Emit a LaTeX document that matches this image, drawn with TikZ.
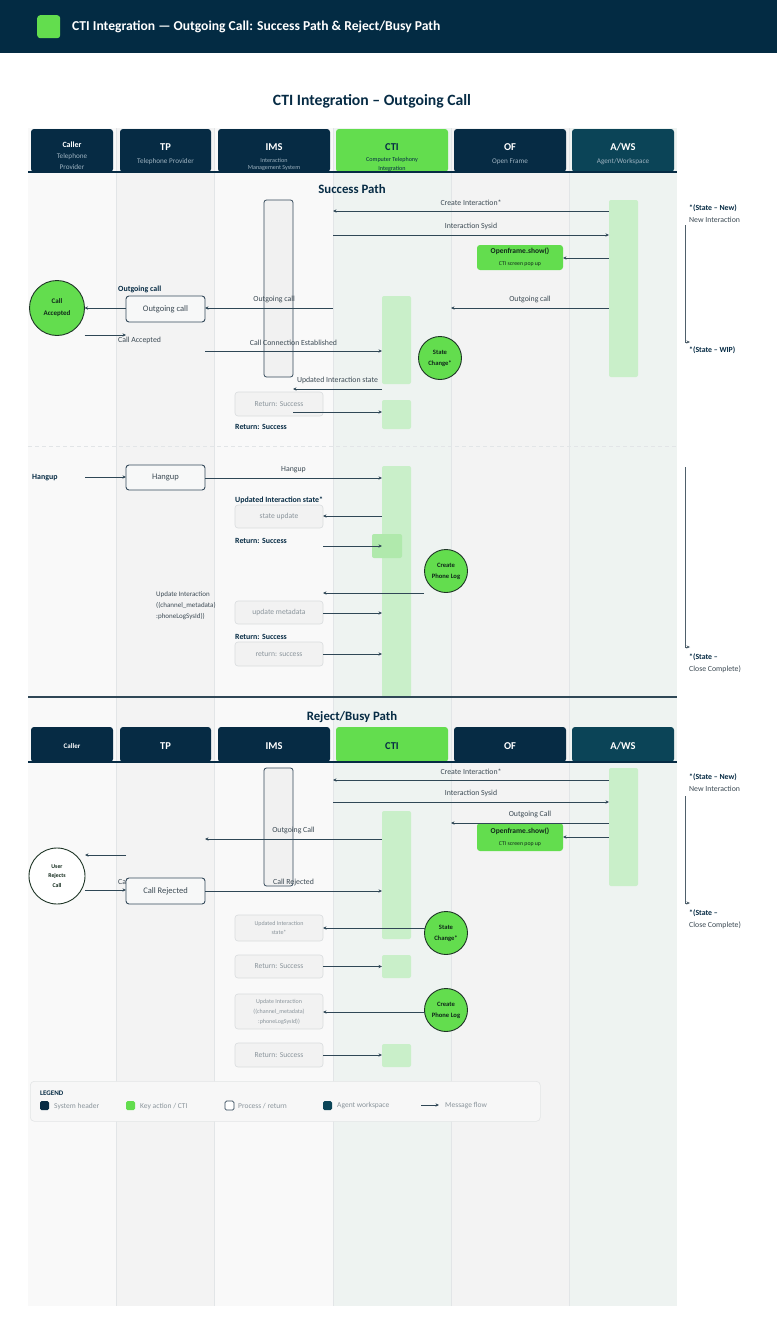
\documentclass[tikz,border=0pt]{standalone}
\usepackage{fontspec}
\setmainfont{Carlito}
\usetikzlibrary{arrows.meta}
\newcommand\fsz[2]{\fontsize{#1}{#2}\selectfont}
\definecolor{banner}{HTML}{032B43}
\definecolor{navy}{HTML}{062B44}
\definecolor{teal}{HTML}{0B4457}
\definecolor{keygreen}{HTML}{63DD4E}
\definecolor{barg}{HTML}{C9EFC9}
\definecolor{barg2}{HTML}{B0E9AC}
\definecolor{laneA}{HTML}{F9F9F9}
\definecolor{laneB}{HTML}{F3F3F3}
\definecolor{laneC}{HTML}{EEF3F1}
\definecolor{lanesep}{HTML}{E2E5E7}
\definecolor{subt}{HTML}{9DB2C0}
\definecolor{arr}{HTML}{2F4756}
\definecolor{lbltxt}{HTML}{3C4A54}
\definecolor{graytxt}{HTML}{8A949B}
\definecolor{edge}{HTML}{34495A}
\definecolor{imsfill}{HTML}{F1F1F1}
\definecolor{procfill}{HTML}{F7F8F8}
\definecolor{retfill}{HTML}{F2F2F2}
\definecolor{retedge}{HTML}{D9DCDE}
\definecolor{circedge}{HTML}{1E3526}
\definecolor{circtxt}{HTML}{10281A}
\definecolor{statecol}{HTML}{4F606B}
\definecolor{legfill}{HTML}{F7F7F7}
\definecolor{legedge}{HTML}{E3E5E6}
\tikzset{
  lanebg/.style={anchor=north west, inner sep=0, outer sep=0, minimum height=1178pt},
  hdr/.style={anchor=north west, inner sep=0, outer sep=0, minimum height=43pt, rounded corners=3pt, fill=navy},
  hdrb/.style={hdr, minimum height=35pt},
  hname/.style={font=\bfseries\fsz{10.5}{12}, text=white, inner sep=0},
  hsub/.style={font=\fsz{7.2}{8}, text=subt, inner sep=0},
  sectitle/.style={font=\bfseries\fsz{12.8}{14}, text=navy, inner sep=0},
  actbar/.style={anchor=north west, inner sep=0, outer sep=0, fill=barg, rounded corners=2pt},
  imsbox/.style={anchor=north west, inner sep=0, outer sep=0, fill=imsfill, draw=edge, line width=0.8pt, rounded corners=2.5pt},
  procbox/.style={anchor=north west, inner sep=0, outer sep=0, fill=procfill, draw=edge, line width=0.9pt, rounded corners=3pt, minimum width=79pt, font=\fsz{8.5}{10}, text=lbltxt},
  retbox/.style={anchor=north west, inner sep=0, outer sep=0, fill=retfill, draw=retedge, line width=0.6pt, rounded corners=3pt, minimum width=88pt, font=\fsz{7.6}{9}, text=graytxt, align=center},
  keybox/.style={anchor=north west, inner sep=0, outer sep=0, fill=keygreen, rounded corners=3pt, minimum width=86pt, align=center, text=circtxt},
  circ/.style={circle, draw=circedge, line width=0.9pt, fill=keygreen, inner sep=0, outer sep=0, align=center, font=\bfseries\fsz{6.6}{11}, text=circtxt},
  msg/.style={draw=arr, line width=0.75pt, -{Stealth[length=3.5pt,width=3.2pt]}},
  lbl/.style={font=\fsz{7.8}{9}, text=lbltxt, inner sep=0},
  blbl/.style={font=\bfseries\fsz{7.9}{9}, text=navy, inner sep=0, anchor=west},
  note/.style={font=\fsz{7.8}{9}, text=lbltxt, inner sep=0, anchor=west},
  bnote/.style={note, font=\bfseries\fsz{7.8}{9}, text=navy},
  statearr/.style={draw=statecol, line width=0.9pt, -{Stealth[length=3.5pt,width=3pt]}},
  legsq/.style={anchor=north west, inner sep=0, outer sep=0, minimum size=9pt, rounded corners=1.5pt},
  legtxt/.style={font=\fsz{7.5}{9}, text=graytxt, inner sep=0, anchor=west}
}
\begin{document}
\begin{tikzpicture}[x=1pt,y=-1pt]
\useasboundingbox (0,0) rectangle (777,1330);
\fill[white] (0,0) rectangle (777,1330);
% banner
\fill[banner] (0,0) rectangle (777,53);
\node[fill=keygreen, rounded corners=3pt, minimum size=23pt, inner sep=0, anchor=north west] (bannerIcon) at (37,15) {};
\node[font=\bfseries\fsz{13.6}{15}, text=white, anchor=west, inner sep=0] (bannerTitle) at (72,27) {CTI Integration — Outgoing Call: Success Path \& Reject/Busy Path};
\node[font=\bfseries\fsz{15.7}{17}, text=navy, inner sep=0] (title) at (372,101) {CTI Integration – Outgoing Call};
% lanes
\node[lanebg, fill=laneA, minimum width=88pt] (lnCaller) at (28,128) {};
\node[lanebg, fill=laneB, minimum width=98pt] (lnTP) at (116,128) {};
\node[lanebg, fill=laneA, minimum width=119pt] (lnIMS) at (214,128) {};
\node[lanebg, fill=laneC, minimum width=118pt] (lnCTI) at (333,128) {};
\node[lanebg, fill=laneB, minimum width=118pt] (lnOF) at (451,128) {};
\node[lanebg, fill=laneC, minimum width=108pt] (lnAWS) at (569,128) {};
\foreach \l in {lnTP,lnIMS,lnCTI,lnOF,lnAWS}
  \draw[lanesep, line width=0.6pt] (\l.north west) -- (\l.south west);
% headers row 1
\node[hdr, minimum width=82pt] (hCaller) at (31,129) {};
\node[hdr, minimum width=91pt] (hTP) at (120,129) {};
\node[hdr, minimum width=112pt] (hIMS) at (218,129) {};
\node[hdr, minimum width=112pt, fill=keygreen] (hCTI) at (336,129) {};
\node[hdr, minimum width=112pt] (hOF) at (454,129) {};
\node[hdr, minimum width=102pt, fill=teal] (hAWS) at (572,129) {};
\draw[navy, line width=1.5pt] (28,172) -- (677,172);
\node[hname, font=\bfseries\fsz{8}{9}] (tCaller) at (hCaller.center|-0,145) {Caller};
\node[hsub] (sCaller1) at (hCaller.center|-0,157) {Telephone};
\node[hsub] (sCaller2) at (hCaller.center|-0,167) {Provider};
\node[hname] (tTP) at (hTP.center|-0,147) {TP};
\node[hsub] (sTP) at (hTP.center|-0,162) {Telephone Provider};
\node[hname] (tIMS) at (hIMS.center|-0,147) {IMS};
\node[hsub, font=\fsz{6.1}{7}] (sIMS1) at (hIMS.center|-0,160) {Interaction};
\node[hsub, font=\fsz{6.1}{7}] (sIMS2) at (hIMS.center|-0,168) {Management System};
\node[hname, text=navy] (tCTI) at (hCTI.center|-0,147) {CTI};
\node[hsub, font=\fsz{6.1}{7}, text=navy] (sCTI1) at (hCTI.center|-0,160) {Computer Telephony};
\node[hsub, font=\fsz{6.1}{7}, text=navy] (sCTI2) at (hCTI.center|-0,169) {Integration};
\node[hname] (tOF) at (hOF.center|-0,147) {OF};
\node[hsub] (sOF) at (hOF.center|-0,162) {Open Frame};
\node[hname] (tAWS) at (hAWS.center|-0,147) {A/WS};
\node[hsub] (sAWS) at (hAWS.center|-0,162) {Agent/Workspace};
% ===== success path =====
\node[sectitle] (succTitle) at (352,189) {Success Path};
\node[imsbox, minimum width=29pt, minimum height=177pt] (imsA) at (264,200) {};
\node[actbar, minimum width=29pt, minimum height=177pt] (awsA) at (609,200) {};
\node[actbar, minimum width=29pt, minimum height=88pt] (ctiA) at (382,296) {};
\node[actbar, minimum width=29pt, minimum height=29pt] (ctiB) at (382,400) {};
\node[keybox, minimum height=25pt] (ofA) at (477,245) {{\bfseries\fsz{7.5}{11}Openframe.show()}\\{\fsz{5.8}{7}CTI screen pop up}};
\node[procbox, minimum height=26pt] (tpA) at (126,296) {Outgoing call};
\node[circ, minimum size=55pt, font=\bfseries\fsz{7}{12}] (callAcc) at (57,308) {Call\\Accepted};
\node[circ, minimum size=43pt] (scA) at (440,358) {State\\Change*};
\node[retbox, minimum height=24pt] (retA) at (235,392) {Return: Success};
\node[blbl] (lOutCall) at (118,289) {Outgoing call};
\node[blbl] (lRetA) at (235,427) {Return: Success};
\node[note] (lCallAcc) at (118,340) {Call Accepted};
\draw[msg] (awsA.west|-0,211) -- (lnCTI.west|-0,211) node[lbl,midway,yshift=8.5pt] (mA1) {Create Interaction*};
\draw[msg] (lnCTI.west|-0,235) -- (awsA.west|-0,235) node[lbl,midway,yshift=8.5pt] (mA2) {Interaction Sysid};
\draw[msg] (awsA.west|-0,258) -- (ofA.east|-0,258);
\draw[msg] (awsA.west|-0,308) -- (lnOF.west|-0,308) node[lbl,midway,yshift=8.5pt] (mA3) {Outgoing call};
\draw[msg] (lnCTI.west|-0,308) -- (tpA.east|-0,308) node[lbl,pos=0.46,yshift=8.5pt] (mA4) {Outgoing call};
\draw[msg] (tpA.west|-0,308) -- (callAcc.east|-0,308);
\draw[msg] (callAcc.east|-0,335) -- (tpA.west|-0,335);
\draw[msg] (tpA.east|-0,351) -- (ctiA.west|-0,351) node[lbl,midway,yshift=8.5pt] (mA5) {Call Connection Established};
\draw[msg] (ctiA.west|-0,389) -- (imsA.east|-0,389) node[lbl,midway,yshift=8.5pt] (mA6) {Updated Interaction state};
\draw[msg] (imsA.east|-0,412) -- (ctiB.west|-0,412);
% state note 1
\node[bnote] (nA1) at (689,208) {*(State – New)};
\node[note] (nA2) at (689,220) {New Interaction};
\coordinate (stA1) at (685,225);
\coordinate (stA2) at (690,342);
\draw[statearr] (stA1) |- (stA2);
\node[bnote] (nA3) at (689,350) {*(State – WIP)};
% dashed separator
\draw[lanesep, dashed, dash pattern=on 4pt off 3pt, line width=0.6pt] (28,446) -- (677,446);
% hangup
\node[blbl] (lHang) at (32,478) {Hangup};
\node[procbox, minimum height=25pt] (tpB) at (126,465) {Hangup};
\coordinate (hgStart) at (85,477);
\draw[msg] (hgStart) -- (tpB.west|-hgStart);
\node[actbar, minimum width=29pt, minimum height=231pt] (ctiC) at (382,466) {};
\node[actbar, fill=barg2, minimum width=30pt, minimum height=24pt] (ctiD) at (372,534) {};
\draw[msg] (tpB.east|-0,478) -- (ctiC.west|-0,478) node[lbl,midway,yshift=8.5pt] (mB1) {Hangup};
\node[blbl] (lUpd) at (235,500) {Updated Interaction state*};
\node[retbox, minimum height=23pt] (stB) at (235,505) {state update};
\draw[msg] (ctiC.west|-0,516) -- (stB.east|-0,516);
\node[blbl] (lRetB) at (235,541) {Return: Success};
\draw[msg] (stB.east|-0,546) -- (ctiC.west|-0,546);
\node[circ, minimum size=43pt] (cplA) at (446,571) {Create\\Phone Log};
\node[retbox, minimum height=23pt] (mdB) at (235,601) {update metadata};
\coordinate (cplAout) at (424,593);
\draw[msg] (cplAout) -- (mdB.east|-cplAout);
\node[note, font=\fsz{7}{11}, align=left, anchor=north west] (lUpdInt) at (156,591) {Update Interaction\\((channel\_metadata)\\:phoneLogSysId))};
\draw[msg] (mdB.east|-0,613) -- (ctiC.west|-0,613);
\node[blbl] (lRetC) at (235,637) {Return: Success};
\node[retbox, minimum height=24pt] (rsB) at (235,642) {return: success};
\draw[msg] (rsB.east|-0,654) -- (ctiC.west|-0,654);
\coordinate (stB1) at (685,467);
\coordinate (stB2) at (690,647);
\draw[statearr] (stB1) |- (stB2);
\node[bnote] (nB1) at (689,657) {*(State –};
\node[note] (nB2) at (689,669) {Close Complete)};
\draw[arr, line width=2pt] (28,697) -- (677,697);
% ===== reject path =====
\node[sectitle] (rejTitle) at (352,717) {Reject/Busy Path};
\node[hdrb, minimum width=82pt] (gCaller) at (31,727) {};
\node[hdrb, minimum width=91pt] (gTP) at (120,727) {};
\node[hdrb, minimum width=112pt] (gIMS) at (218,727) {};
\node[hdrb, minimum width=112pt, fill=keygreen] (gCTI) at (336,727) {};
\node[hdrb, minimum width=112pt] (gOF) at (454,727) {};
\node[hdrb, minimum width=102pt, fill=teal] (gAWS) at (572,727) {};
\draw[navy, line width=1.5pt] (28,762) -- (677,762);
\node[hname, font=\bfseries\fsz{7}{8}] (uCaller) at (gCaller.center|-0,746) {Caller};
\node[hname] (uTP) at (gTP.center|-0,746) {TP};
\node[hname] (uIMS) at (gIMS.center|-0,746) {IMS};
\node[hname, text=navy] (uCTI) at (gCTI.center|-0,746) {CTI};
\node[hname] (uOF) at (gOF.center|-0,746) {OF};
\node[hname] (uAWS) at (gAWS.center|-0,746) {A/WS};
\node[imsbox, minimum width=29pt, minimum height=118pt] (imsR) at (264,768) {};
\node[actbar, minimum width=29pt, minimum height=118pt] (awsR) at (609,768) {};
\node[actbar, minimum width=29pt, minimum height=128pt] (ctiR) at (382,811) {};
\node[keybox, minimum height=28pt] (ofR) at (477,823) {{\bfseries\fsz{7.5}{11}Openframe.show()}\\{\fsz{5.8}{7}CTI screen pop up}};
\draw[msg] (awsR.west|-0,780) -- (lnCTI.west|-0,780) node[lbl,midway,yshift=8.5pt] (mR1) {Create Interaction*};
\draw[msg] (lnCTI.west|-0,802) -- (awsR.west|-0,802) node[lbl,midway,yshift=8.5pt] (mR2) {Interaction Sysid};
\draw[msg] (awsR.west|-0,823) -- (lnOF.west|-0,823) node[lbl,midway,yshift=8.5pt] (mR3) {Outgoing Call};
\draw[msg] (awsR.west|-0,837) -- (ofR.east|-0,837);
\node[note] (lCallRej) at (118,882) {Call Rejected};
\node[procbox, minimum height=26pt] (tpR) at (126,878) {Call Rejected};
\draw[msg] (ctiR.west|-0,839) -- (tpR.east|-0,839) node[lbl,midway,yshift=8.5pt] (mR4) {Outgoing Call};
\node[circ, fill=white, minimum size=56pt, font=\bfseries\fsz{5.8}{9.5}] (userRej) at (57,876) {User\\Rejects\\Call};
\draw[msg] (tpR.west|-0,855) -- (userRej.east|-0,855);
\draw[msg] (userRej.east|-0,890) -- (tpR.west|-0,890);
\draw[msg] (tpR.east|-0,891) -- (ctiR.west|-0,891) node[lbl,midway,yshift=8.5pt] (mR5) {Call Rejected};
\node[retbox, minimum height=26pt, font=\fsz{6}{9}] (uisR) at (235,915) {Updated Interaction\\state*};
\node[circ, minimum size=43pt] (scR) at (446,933) {State\\Change*};
\draw[msg] (scR.west|-0,928) -- (uisR.east|-0,928);
\node[retbox, minimum height=23pt] (retR1) at (235,955) {Return: Success};
\node[actbar, minimum width=29pt, minimum height=23pt] (ctiR2) at (382,955) {};
\draw[msg] (retR1.east) -- (ctiR2.west);
\node[retbox, minimum height=35pt, font=\fsz{6}{10}] (updR) at (235,994) {Update Interaction\\((channel\_metadata)\\:phoneLogSysId))};
\node[circ, minimum size=43pt] (cplR) at (446,1010) {Create\\Phone Log};
\draw[msg] (cplR.west|-0,1012) -- (updR.east|-0,1012);
\node[retbox, minimum height=24pt] (retR2) at (235,1043) {Return: Success};
\node[actbar, minimum width=29pt, minimum height=23pt] (ctiR3) at (382,1044) {};
\draw[msg] (retR2.east|-0,1055) -- (ctiR3.west|-0,1055);
\node[bnote] (nR1) at (689,777) {*(State – New)};
\node[note] (nR2) at (689,789) {New Interaction};
\coordinate (stR1) at (685,796);
\coordinate (stR2) at (690,903);
\draw[statearr] (stR1) |- (stR2);
\node[bnote] (nR3) at (689,913) {*(State –};
\node[note] (nR4) at (689,925) {Close Complete)};
% ===== legend =====
\node[draw=legedge, fill=legfill, line width=0.6pt, rounded corners=4pt, anchor=north west, minimum width=510pt, minimum height=40pt, inner sep=0] (legend) at (30,1081) {};
\node[font=\bfseries\fsz{7}{8}, text=navy, inner sep=0, anchor=west] (legTitle) at (40,1093) {LEGEND};
\node[legsq, fill=navy] (lg1) at (40,1101) {};
\node[legtxt] (lg1t) at (54,1106) {System header};
\node[legsq, fill=keygreen] (lg2) at (126,1101) {};
\node[legtxt] (lg2t) at (140,1106) {Key action / CTI};
\node[legsq, fill=white, draw=edge, line width=0.7pt] (lg3) at (225,1101) {};
\node[legtxt] (lg3t) at (238,1106) {Process / return};
\node[legsq, fill=teal] (lg4) at (323,1101) {};
\node[legtxt] (lg4t) at (337,1106) {Agent workspace};
\coordinate (lgA) at (421,1105);
\coordinate (lgB) at (439,1105);
\draw[msg] (lgA) -- (lgB);
\node[legtxt] (lg5t) at (445,1106) {Message flow};
\end{tikzpicture}
\end{document}
